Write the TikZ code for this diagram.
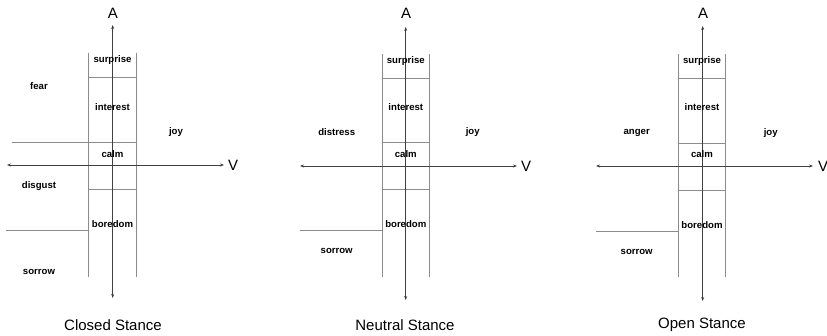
\documentclass[tikz,border=0pt]{standalone}
\usepackage{fontspec}
\setmainfont{Liberation Sans}
\usetikzlibrary{arrows.meta}
\begin{document}
\begin{tikzpicture}[x=1pt,y=-1pt,
  axis/.style={draw=black!75,line width=0.6pt,{Stealth[length=4pt,width=3pt]}-{Stealth[length=4pt,width=3pt]}},
  grid/.style={draw=black!45,line width=0.6pt},
  lab/.style={font=\fontsize{9.6}{11}\selectfont\bfseries,inner sep=0pt},
  axlab/.style={font=\fontsize{15}{17}\selectfont,inner sep=0pt},
  ttl/.style={font=\fontsize{15}{17}\selectfont,inner sep=0pt}]
\useasboundingbox (0,0) rectangle (827,336);
% ---------- Panel 1: Closed Stance ----------
\coordinate (a1t) at (112.7,25);
\coordinate (a1b) at (112.7,298);
\coordinate (v1l) at (7,165);
\coordinate (v1r) at (224,165);
\coordinate (c1lt) at (88.7,53);
\coordinate (c1lb) at (88.7,277);
\coordinate (c1rt) at (136,53);
\coordinate (c1rb) at (136,277);
\coordinate (h1a) at (88.7,77);  \coordinate (h1ar) at (136,77);
\coordinate (h1b) at (12,142);   \coordinate (h1br) at (136,142);
\coordinate (h1c) at (88.7,189); \coordinate (h1cr) at (136,189);
\coordinate (h1d) at (6,230);    \coordinate (h1dr) at (88.7,230);
\draw[grid] (c1lt) -- (c1lb);
\draw[grid] (c1rt) -- (c1rb);
\draw[grid] (h1a) -- (h1ar);
\draw[grid] (h1b) -- (h1br);
\draw[grid] (h1c) -- (h1cr);
\draw[grid] (h1d) -- (h1dr);
\draw[axis] (a1b) -- (a1t);
\draw[axis] (v1l) -- (v1r);
\node[axlab] (A1) at (113,13) {A};
\node[axlab] (V1) at (233,165) {V};
\node[lab] (sur1) at (112.5,60) {surprise};
\node[lab] (int1) at (112.5,107) {interest};
\node[lab] (calm1) at (112.5,154) {calm};
\node[lab] (bor1) at (112.5,224) {boredom};
\node[lab] (fear1) at (39,86) {fear};
\node[lab] (joy1) at (176,132) {joy};
\node[lab] (dis1) at (39,186) {disgust};
\node[lab] (sor1) at (39,272) {sorrow};
\node[ttl] (t1) at (113,325) {Closed Stance};
% ---------- Panel 2: Neutral Stance ----------
\coordinate (a2t) at (405.7,27);
\coordinate (a2b) at (405.7,300);
\coordinate (v2l) at (300,166);
\coordinate (v2r) at (517,166);
\coordinate (c2lt) at (382.3,54);
\coordinate (c2lb) at (382.3,277);
\coordinate (c2rt) at (429.3,54);
\coordinate (c2rb) at (429.3,277);
\coordinate (h2a) at (382.3,78);  \coordinate (h2ar) at (429.3,78);
\coordinate (h2b) at (382.3,142); \coordinate (h2br) at (429.3,142);
\coordinate (h2c) at (382.3,189); \coordinate (h2cr) at (429.3,189);
\coordinate (h2d) at (300,230);   \coordinate (h2dr) at (382.3,230);
\draw[grid] (c2lt) -- (c2lb);
\draw[grid] (c2rt) -- (c2rb);
\draw[grid] (h2a) -- (h2ar);
\draw[grid] (h2b) -- (h2br);
\draw[grid] (h2c) -- (h2cr);
\draw[grid] (h2d) -- (h2dr);
\draw[axis] (a2b) -- (a2t);
\draw[axis] (v2l) -- (v2r);
\node[axlab] (A2) at (406,13) {A};
\node[axlab] (V2) at (526,166) {V};
\node[lab] (sur2) at (405.8,61) {surprise};
\node[lab] (int2) at (405.8,107) {interest};
\node[lab] (calm2) at (405.8,154) {calm};
\node[lab] (bor2) at (405.8,224) {boredom};
\node[lab] (dist2) at (336.7,132) {distress};
\node[lab] (joy2) at (472.7,132) {joy};
\node[lab] (sor2) at (336.7,251) {sorrow};
\node[ttl] (t2) at (405,325) {Neutral Stance};
% ---------- Panel 3: Open Stance ----------
\coordinate (a3t) at (702.7,26);
\coordinate (a3b) at (702.7,301);
\coordinate (v3l) at (596,166);
\coordinate (v3r) at (813,166);
\coordinate (c3lt) at (678.3,54);
\coordinate (c3lb) at (678.3,277);
\coordinate (c3rt) at (725.7,54);
\coordinate (c3rb) at (725.7,277);
\coordinate (h3a) at (678.3,78);  \coordinate (h3ar) at (725.7,78);
\coordinate (h3b) at (678.3,143); \coordinate (h3br) at (725.7,143);
\coordinate (h3c) at (678.3,190); \coordinate (h3cr) at (725.7,190);
\coordinate (h3d) at (596,231);   \coordinate (h3dr) at (678.3,231);
\draw[grid] (c3lt) -- (c3lb);
\draw[grid] (c3rt) -- (c3rb);
\draw[grid] (h3a) -- (h3ar);
\draw[grid] (h3b) -- (h3br);
\draw[grid] (h3c) -- (h3cr);
\draw[grid] (h3d) -- (h3dr);
\draw[axis] (a3b) -- (a3t);
\draw[axis] (v3l) -- (v3r);
\node[axlab] (A3) at (703,13) {A};
\node[axlab,anchor=west] (V3) at (818,166) {V};
\node[lab] (sur3) at (702,61) {surprise};
\node[lab] (int3) at (702,107) {interest};
\node[lab] (calm3) at (702,154) {calm};
\node[lab] (bor3) at (702,225) {boredom};
\node[lab] (ang3) at (636.7,133) {anger};
\node[lab] (joy3) at (770.7,133) {joy};
\node[lab] (sor3) at (636.7,252) {sorrow};
\node[ttl] (t3) at (702,325) {Open Stance};
\end{tikzpicture}
\end{document}
